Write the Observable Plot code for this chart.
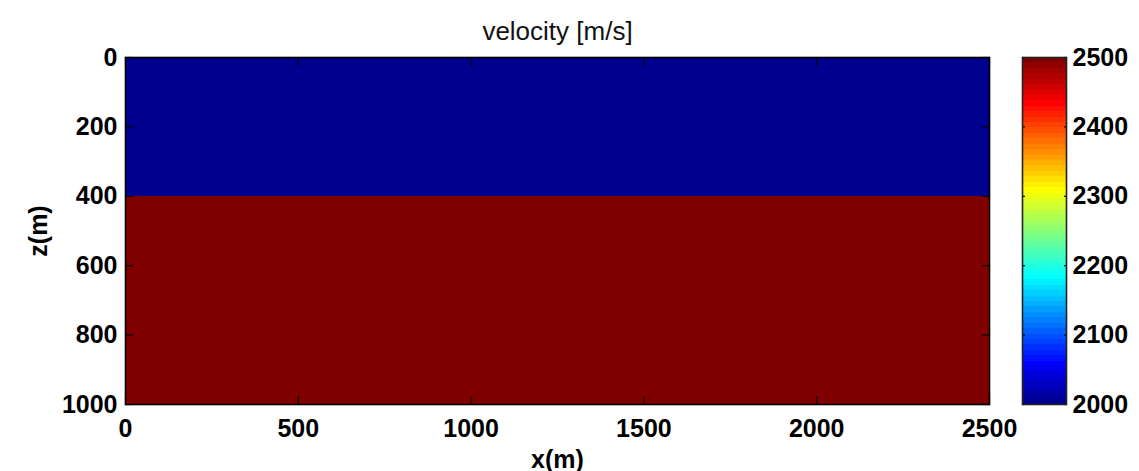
<!DOCTYPE html>
<html>
<head>
<meta charset="utf-8">
<script src="https://cdn.jsdelivr.net/npm/d3@7"></script>
<script src="https://cdn.jsdelivr.net/npm/@observablehq/plot@0.6"></script>
<style>
  html, body { margin: 0; padding: 0; background: #fff; }
  #chart { position: relative; width: 1139px; height: 471px; font-family: "Liberation Sans", Arial, Helvetica, sans-serif; }
  #chart svg { position: absolute; top: 0; overflow: visible; }
</style>
</head>
<body>
<div id="chart"></div>
<script>
// Two-layer velocity model: depth intervals (m) and velocity (m/s)
const layerTop = [0, 400];
const layerBottom = [400, 1000];
const layerVelocity = [2000, 2500];
const modelWidth = 2500;
const modelDepth = 1000;

// Axis ticks
const xTicks = [0, 500, 1000, 1500, 2000, 2500];
const zTicks = [0, 200, 400, 600, 800, 1000];
const velTicks = [2000, 2100, 2200, 2300, 2400, 2500];
const velRange = [2000, 2500];

// Jet colormap (64 levels) control points
const jetStops = [0, 7 / 63, 23 / 63, 39 / 63, 55 / 63, 1];
const jetColors = ["#00008f", "#0000ff", "#00ffff", "#ffff00", "#ff0000", "#800000"];
const jetLevels = 64;

const layers = layerTop.map((t, i) => ({top: t, bottom: layerBottom[i], vel: layerVelocity[i]}));

const colorScale = {
  type: "linear",
  domain: jetStops.map(t => velRange[0] + t * (velRange[1] - velRange[0])),
  range: jetColors,
  interpolate: "rgb"
};

const fmt = d3.format("d");
const font = {fontSize: 25, fontWeight: "bold", fill: "#000", tickFormat: fmt};
const W = 1000, H = 471;

const main = Plot.plot({
  width: W,
  height: H,
  marginLeft: 125,
  marginRight: 11,
  marginTop: 57,
  marginBottom: 67,
  style: {fontFamily: "Liberation Sans, Arial, Helvetica, sans-serif", background: "transparent", overflow: "visible"},
  x: {domain: [0, modelWidth]},
  y: {domain: [0, modelDepth], reverse: true},
  color: colorScale,
  marks: [
    Plot.rect(layers, {x1: 0, x2: modelWidth, y1: "top", y2: "bottom", fill: "vel", shapeRendering: "crispEdges"}),
    // inward ticks on all four sides
    Plot.axisX(xTicks, {anchor: "bottom", tickSize: -8, text: null, label: null, strokeWidth: 1.2}),
    Plot.axisX(xTicks, {anchor: "top", tickSize: -8, text: null, label: null, strokeWidth: 1.2}),
    Plot.axisY(zTicks, {anchor: "left", tickSize: -8, text: null, label: null, strokeWidth: 1.2}),
    Plot.axisY(zTicks, {anchor: "right", tickSize: -8, text: null, label: null, strokeWidth: 1.2}),
    // tick labels
    Plot.axisX(xTicks, {anchor: "bottom", tickSize: 0, tickPadding: 15, label: null, ...font}),
    Plot.axisY(zTicks, {anchor: "left", tickSize: 0, tickPadding: 8, label: null, ...font}),
    Plot.frame({stroke: "#000", strokeWidth: 1.6}),
    // title and axis labels
    Plot.text(["velocity [m/s]"], {frameAnchor: "top", lineAnchor: "middle", dy: -26, fontSize: 26, fill: "#111"}),
    Plot.text(["x(m)"], {frameAnchor: "bottom", lineAnchor: "middle", dy: 55, fontSize: 25, fontWeight: "bold", fill: "#000"}),
    Plot.text(["z(m)"], {frameAnchor: "left", textAnchor: "middle", lineAnchor: "middle", dx: -87, rotate: -90, fontSize: 25, fontWeight: "bold", fill: "#000"})
  ]
});
main.style.left = "0px";

// Colorbar: 64 discrete jet bands spanning the velocity range
const step = (velRange[1] - velRange[0]) / jetLevels;
const bands = d3.range(jetLevels).map(k => ({
  lo: velRange[0] + k * step,
  hi: velRange[0] + (k + 1) * step,
  v: velRange[0] + k * (velRange[1] - velRange[0]) / (jetLevels - 1)
}));

const bar = Plot.plot({
  width: 139,
  height: H,
  marginLeft: 22,
  marginRight: 73,
  marginTop: 57,
  marginBottom: 67,
  style: {fontFamily: "Liberation Sans, Arial, Helvetica, sans-serif", background: "transparent", overflow: "visible"},
  x: {domain: [0, 1], axis: null},
  y: {domain: velRange},
  color: colorScale,
  marks: [
    Plot.rect(bands, {x1: 0, x2: 1, y1: "lo", y2: "hi", fill: "v", shapeRendering: "crispEdges"}),
    Plot.axisY(velTicks, {anchor: "left", tickSize: -3, text: null, label: null, strokeWidth: 1.2}),
    Plot.axisY(velTicks, {anchor: "right", tickSize: -3, text: null, label: null, strokeWidth: 1.2}),
    Plot.axisY(velTicks, {anchor: "right", tickSize: 0, tickPadding: 6, label: null, ...font}),
    Plot.frame({stroke: "#222", strokeWidth: 1.6})
  ]
});
bar.style.left = W + "px";

const chart = document.getElementById("chart");
chart.appendChild(main);
chart.appendChild(bar);
</script>
</body>
</html>
